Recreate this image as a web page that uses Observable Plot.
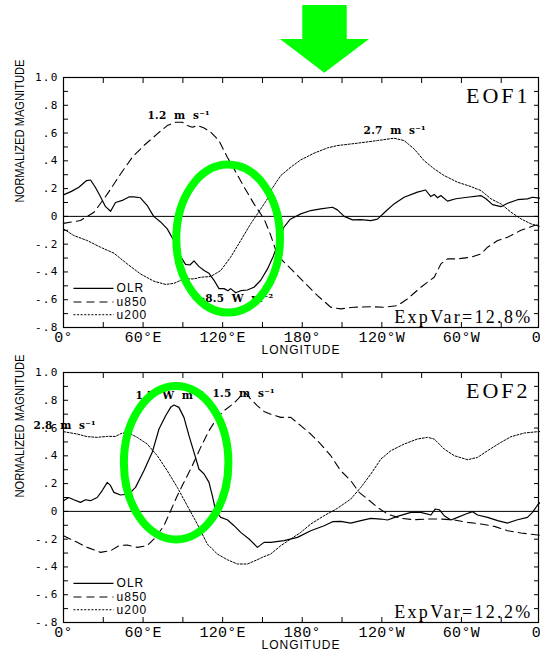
<!DOCTYPE html>
<html><head><meta charset="utf-8">
<script src="https://cdn.jsdelivr.net/npm/d3@7"></script>
<script src="https://cdn.jsdelivr.net/npm/@observablehq/plot@0.6"></script>
<style>
html,body{margin:0;padding:0;background:#fff;}
#chart svg{display:block;overflow:visible;}
</style></head><body><div id="chart"></div>
<script>
// ---------- data ----------
const seriesNames = ["OLR", "u850", "u200"];
const xTickValues = [0, 60, 120, 180, 240, 300, 360];
const xTickLabels = ["0°", "60°E", "120°E", "180°", "120°W", "60°W", "0°"];
const yTickValues = [-0.8, -0.6, -0.4, -0.2, 0, 0.2, 0.4, 0.6, 0.8, 1.0];
const yTickLabels = ["-.8", "-.6", "-.4", "-.2", "0", ".2", ".4", ".6", ".8", "1.0"];

// EOF1 [longitude, normalized magnitude]
const eof1_OLR = [[0,0.155],[6,0.18],[11.6,0.21],[17.4,0.258],[20.4,0.262],[24,0.21],[27.4,0.15],[31.7,0.07],[35.5,0.037],[39.2,0.10],[44.3,0.115],[49.3,0.14],[53,0.14],[58,0.134],[63,0.08],[68,0.0],[73.2,-0.04],[78.2,-0.09],[83.3,-0.175],[88.3,-0.29],[92,-0.345],[95.3,-0.35],[98.4,-0.32],[102,-0.36],[106,-0.39],[109.7,-0.41],[113.5,-0.46],[117.2,-0.52],[121,-0.52],[124,-0.535],[126,-0.52],[129.8,-0.55],[133.6,-0.535],[138.6,-0.53],[143.6,-0.51],[148.7,-0.46],[153.7,-0.38],[158,-0.29],[162,-0.19],[166,-0.08],[171,-0.02],[178.9,0.018],[186.4,0.042],[193.9,0.054],[202.8,0.066],[206.5,0.047],[211.6,0.0],[217.9,-0.025],[224.2,-0.023],[231.7,-0.03],[236.7,-0.02],[243,0.037],[249.2,0.09],[256.8,0.138],[266.8,0.175],[273,0.19],[276.9,0.143],[279.5,0.158],[282,0.134],[284.5,0.15],[289.5,0.11],[295.8,0.127],[304.6,0.138],[314.7,0.15],[318.5,0.127],[323.5,0.085],[329.8,0.07],[334.8,0.095],[342.3,0.12],[349.8,0.126],[353.6,0.138],[357.3,0.133],[360,0.13]];
const eof1_u850 = [[0,-0.05],[12.8,-0.03],[23,0.03],[33,0.16],[43,0.305],[51.8,0.425],[60.6,0.51],[70.7,0.594],[78.2,0.654],[84.5,0.678],[89.6,0.678],[93.3,0.654],[97.1,0.642],[100.9,0.654],[106,0.637],[111,0.606],[117.2,0.546],[123.5,0.426],[128.6,0.342],[134.8,0.234],[143.6,0.09],[151.2,-0.018],[156,-0.13],[161.3,-0.28],[166.3,-0.33],[171.3,-0.376],[181.4,-0.474],[191.5,-0.57],[201.5,-0.654],[209,-0.666],[219,-0.654],[231.7,-0.65],[241.8,-0.654],[251.8,-0.642],[259.4,-0.594],[269.4,-0.51],[279.5,-0.438],[284.5,-0.342],[289.5,-0.306],[297.1,-0.306],[307.1,-0.294],[314.7,-0.27],[319.7,-0.222],[327.3,-0.174],[334.8,-0.15],[344.9,-0.10],[355,-0.066],[360,-0.055]];
const eof1_u200 = [[0,-0.09],[7.8,-0.138],[17.9,-0.174],[27.9,-0.222],[38,-0.265],[48,-0.342],[58,-0.414],[68.2,-0.467],[77,-0.49],[83.3,-0.482],[90.8,-0.45],[98.4,-0.45],[103.4,-0.438],[111,-0.433],[118.5,-0.39],[126,-0.294],[133.6,-0.174],[141.1,-0.054],[146.2,0.018],[153.7,0.126],[156.2,0.186],[163.8,0.294],[171.3,0.354],[178.9,0.407],[188.9,0.455],[199,0.493],[206.5,0.51],[221.6,0.527],[236.7,0.546],[249.2,0.563],[256.8,0.546],[264.3,0.486],[271.8,0.402],[279.5,0.342],[287,0.294],[297.1,0.246],[307.1,0.215],[314.7,0.186],[322.3,0.126],[329.8,0.09],[337.4,0.03],[344.9,-0.018],[352.5,-0.054],[360,-0.075]];

// EOF2
const eof2_OLR = [[0,0.077],[4,0.10],[7.8,0.084],[12.8,0.065],[16.6,0.084],[20.4,0.077],[25.4,0.10],[29.2,0.15],[33,0.209],[35.5,0.185],[38,0.137],[43,0.118],[49.3,0.125],[54.3,0.173],[60.6,0.293],[66.9,0.425],[72,0.593],[77,0.689],[80.8,0.749],[83.3,0.766],[87,0.749],[90.8,0.677],[94.6,0.545],[98.4,0.425],[102.1,0.305],[106,0.269],[109.7,0.209],[112.2,0.113],[114.7,0.005],[118.5,-0.043],[123.5,-0.06],[128.6,-0.103],[133.6,-0.151],[139.9,-0.199],[146.2,-0.259],[151.2,-0.223],[156.2,-0.223],[166.3,-0.211],[176.4,-0.187],[186.4,-0.139],[196.5,-0.103],[202.8,-0.074],[209,-0.072],[216.6,-0.084],[224.2,-0.067],[231.7,-0.05],[239.3,-0.055],[244.3,-0.062],[251.8,-0.036],[261.9,-0.007],[269.4,-0.007],[277,-0.026],[280.2,0.017],[283.3,0.012],[287,-0.031],[292.1,-0.062],[297.1,-0.043],[303.4,-0.019],[308.4,-0.002],[312.2,-0.026],[319.7,-0.043],[327.3,-0.067],[334.8,-0.084],[342.3,-0.06],[349.8,-0.043],[353.6,-0.007],[357.4,0.046],[360,0.07]];
const eof2_u850 = [[0,-0.175],[7.8,-0.211],[17.9,-0.259],[27.9,-0.295],[35.5,-0.283],[41.8,-0.247],[48,-0.242],[55.6,-0.259],[63.1,-0.247],[69.4,-0.187],[75.7,-0.103],[80.8,0.005],[85.8,0.113],[90.8,0.209],[97.1,0.329],[103.4,0.461],[109.7,0.581],[116,0.677],[121,0.725],[128.6,0.78],[133.6,0.83],[137.4,0.85],[141.1,0.81],[146.2,0.76],[151.2,0.72],[156.2,0.70],[163.8,0.677],[171.3,0.677],[178.9,0.617],[186.4,0.557],[193.9,0.485],[201.5,0.401],[209,0.293],[216.6,0.221],[222.9,0.137],[229.2,0.089],[236.7,0.029],[244.3,-0.019],[254.3,-0.05],[264.3,-0.06],[274.4,-0.055],[284.5,-0.055],[294.6,-0.062],[304.7,-0.079],[314.7,-0.091],[324.8,-0.108],[334.8,-0.139],[344.9,-0.156],[357.4,-0.17],[360,-0.172]];
const eof2_u200 = [[0,0.574],[10.3,0.557],[17.9,0.538],[25.4,0.533],[33,0.54],[39.2,0.54],[44.3,0.564],[49.3,0.564],[55.6,0.533],[63.1,0.485],[70.7,0.401],[78.2,0.293],[85.8,0.173],[93.3,0.041],[100.9,-0.091],[108.4,-0.235],[116,-0.307],[123.5,-0.348],[131.1,-0.379],[138.6,-0.379],[146.2,-0.348],[150,-0.33],[156.2,-0.307],[163.8,-0.247],[171.3,-0.199],[178.9,-0.151],[186.4,-0.091],[196.5,-0.031],[206.5,0.022],[216.6,0.089],[224.2,0.173],[231.7,0.269],[239.3,0.377],[246.8,0.437],[256.8,0.485],[266.8,0.521],[274.4,0.533],[279.5,0.521],[287,0.449],[294.6,0.401],[304.7,0.372],[312.2,0.389],[319.7,0.437],[329.8,0.497],[337.4,0.538],[347.4,0.564],[357.4,0.574],[360,0.575]];

// amplitude annotations (positioned by their left edge)
const eof1LabelText = ["1.2 m s⁻¹", "2.7 m s⁻¹", "-8.5 W m⁻²"];
const eof1LabelLon = [63.3, 226.2, 103.3];
const eof1LabelVal = [0.726, 0.618, -0.591];
const eof2LabelText = ["2.8 m s⁻¹", "1.7 W m⁻²", "1.5 m s⁻¹"];
const eof2LabelLon = [-22.6, 54.3, 112.3];
const eof2LabelVal = [0.617, 0.833, 0.847];
const eofTitles = ["EOF1", "EOF2"];
const expVarText = ["ExpVar=12.8%", "ExpVar=12.2%"];
const yTitle = "NORMALIZED MAGNITUDE";
const xTitle = "LONGITUDE";

// highlight annotations (data space)
const ellipse1 = {lon: 124.5, v: -0.163, rLon: 39.1, rV: 0.533};
const ellipse2 = {lon: 85.3, v: 0.347, rLon: 39.4, rV: 0.553};
const arrowLon = [180.4, 213.9, 213.9, 230.7, 197.0, 163.6, 180.4];
const arrowVal = [1.518, 1.518, 1.274, 1.274, 1.031, 1.274, 1.274];
const legendLon = [7.5, 37.7, 40];
const legendVal = [-0.518, -0.616, -0.708];

// ---------- drawing ----------
const NS = "http://www.w3.org/2000/svg";
const GREEN = "#00ff00";
const dashes = [null, "8,5", "2,1.6"];
const widths = [1.2, 1.1, 1.0];

function scalesOf(args) {
  return args.find(a => a && typeof a.x === "function" && typeof a.y === "function");
}
function ellipseMark(e) {
  return function(...args) {
    const {x, y} = scalesOf(args);
    const el = document.createElementNS(NS, "ellipse");
    el.setAttribute("cx", x(e.lon));
    el.setAttribute("cy", y(e.v));
    el.setAttribute("rx", Math.abs(x(e.lon + e.rLon) - x(e.lon)));
    el.setAttribute("ry", Math.abs(y(e.v + e.rV) - y(e.v)));
    el.setAttribute("fill", "none");
    el.setAttribute("stroke", GREEN);
    el.setAttribute("stroke-width", 8);
    return el;
  };
}
function arrowMark() {
  return function(...args) {
    const {x, y} = scalesOf(args);
    const el = document.createElementNS(NS, "polygon");
    el.setAttribute("points", arrowLon.map((l, i) => `${x(l)},${y(arrowVal[i])}`).join(" "));
    el.setAttribute("fill", GREEN);
    el.setAttribute("stroke", "none");
    return el;
  };
}

function styleTexts(svg, k, labelText) {
  const set = (el, attrs) => Object.entries(attrs).forEach(([a, v]) => el.setAttribute(a, v));
  svg.querySelectorAll("text").forEach(el => {
    const t = el.textContent;
    if (yTickLabels.includes(t)) set(el, {"font-family": "'DejaVu Sans Mono', monospace", "font-size": 11, "letter-spacing": 1.2});
    else if (xTickLabels.includes(t)) set(el, {"font-family": "'Liberation Mono', monospace", "font-size": 15, "letter-spacing": 0.3});
    else if (seriesNames.includes(t)) set(el, {"font-family": "'Liberation Sans', sans-serif", "font-size": 12, "letter-spacing": 1});
    else if (labelText.includes(t)) set(el, {"font-family": "'DejaVu Serif', serif", "font-size": 10.5, "font-weight": "bold", "letter-spacing": 0.3, "word-spacing": 3.5});
    else if (t === yTitle) set(el, {"font-family": "'Liberation Sans', sans-serif", "font-size": 12, "textLength": 143, "lengthAdjust": "spacingAndGlyphs"});
    else if (t === xTitle) set(el, {"font-family": "'Liberation Sans', sans-serif", "font-size": 12, "letter-spacing": 1});
    else if (t === eofTitles[k]) set(el, {"font-family": "'Liberation Serif', serif", "font-size": 22, "letter-spacing": 3});
    else if (t === expVarText[k]) set(el, {"font-family": "'Liberation Serif', serif", "font-size": 18, "letter-spacing": 2.3});
  });
}

function buildPanel(k, series, labelText, labelLon, labelVal, ellipse, withArrow, height, marginTop, marginBottom) {
  const rows = [];
  series.forEach((pairs, i) => pairs.forEach(([lon, v]) => rows.push({lon, v, series: seriesNames[i]})));
  const labels = labelText.map((t, i) => ({t, lon: labelLon[i], v: labelVal[i]}));
  const legend = seriesNames.map((s, i) => ({s, i, v: legendVal[i]}));
  const minorY = d3.range(-8, 11).map(i => i / 10);
  const minorX = d3.range(0, 361, 30);

  const marks = [
    Plot.ruleY([0], {stroke: "#000", strokeWidth: 1}),
    ...seriesNames.map((s, i) => Plot.line(rows.filter(d => d.series === s), {
      x: "lon", y: "v", stroke: "#000", strokeWidth: widths[i], strokeDasharray: dashes[i], curve: "linear"
    })),
    ...legend.map(d => Plot.link([d], {x1: () => legendLon[0], x2: () => legendLon[1], y1: "v", y2: "v",
      stroke: "#000", strokeWidth: widths[d.i], strokeDasharray: dashes[d.i]})),
    Plot.text(legend, {x: () => legendLon[2], y: "v", text: "s", textAnchor: "start"}),
    Plot.text(labels, {x: "lon", y: "v", text: "t", textAnchor: "start"}),
    Plot.frame({stroke: "#000", strokeWidth: 1.2}),
    Plot.axisY({anchor: "left", ticks: minorY, tickSize: -5, tickFormat: () => "", label: null}),
    Plot.axisY({anchor: "right", ticks: minorY, tickSize: -5, tickFormat: () => "", label: null}),
    Plot.axisX({anchor: "bottom", ticks: minorX, tickSize: -5, tickFormat: () => "", label: null}),
    Plot.axisX({anchor: "top", ticks: minorX, tickSize: -5, tickFormat: () => "", label: null}),
    Plot.axisY({anchor: "left", ticks: yTickValues, tickSize: 0, tickPadding: 5,
      tickFormat: d => yTickLabels[yTickValues.findIndex(t => Math.abs(t - d) < 1e-9)], label: null}),
    Plot.axisX({anchor: "bottom", ticks: xTickValues, tickSize: 0, tickPadding: 4,
      tickFormat: d => xTickLabels[xTickValues.indexOf(d)], label: null}),
    Plot.text([yTitle], {frameAnchor: "left", text: d => d, rotate: -90, dx: -43}),
    Plot.text([xTitle], {frameAnchor: "bottom", text: d => d, lineAnchor: "bottom", dy: 26}),
    Plot.text([eofTitles[k]], {frameAnchor: "top-right", text: d => d, textAnchor: "end", lineAnchor: "bottom", dx: -8, dy: 25}),
    Plot.text([expVarText[k]], {frameAnchor: "bottom-right", text: d => d, textAnchor: "end", lineAnchor: "bottom", dx: -6, dy: -5}),
    ellipseMark(ellipse)
  ];
  if (withArrow) marks.push(arrowMark());

  const svg = Plot.plot({
    width: 540, height, marginTop, marginBottom, marginLeft: 63, marginRight: 2,
    x: {domain: [0, 360], range: [63, 540.5], axis: null},
    y: {domain: [-0.8, 1.0], axis: null},
    style: {fontFamily: "'Liberation Sans', Arial, sans-serif", fontSize: "11px", color: "#000", background: "#fff", overflow: "visible"},
    marks
  });
  styleTexts(svg, k, labelText);
  return svg;
}

const chart = document.getElementById("chart");
chart.appendChild(buildPanel(0, [eof1_OLR, eof1_u850, eof1_u200], eof1LabelText, eof1LabelLon, eof1LabelVal, ellipse1, true, 355, 77, 28));
chart.appendChild(buildPanel(1, [eof2_OLR, eof2_u850, eof2_u200], eof2LabelText, eof2LabelLon, eof2LabelVal, ellipse2, false, 295, 17, 28));
</script></body></html>
